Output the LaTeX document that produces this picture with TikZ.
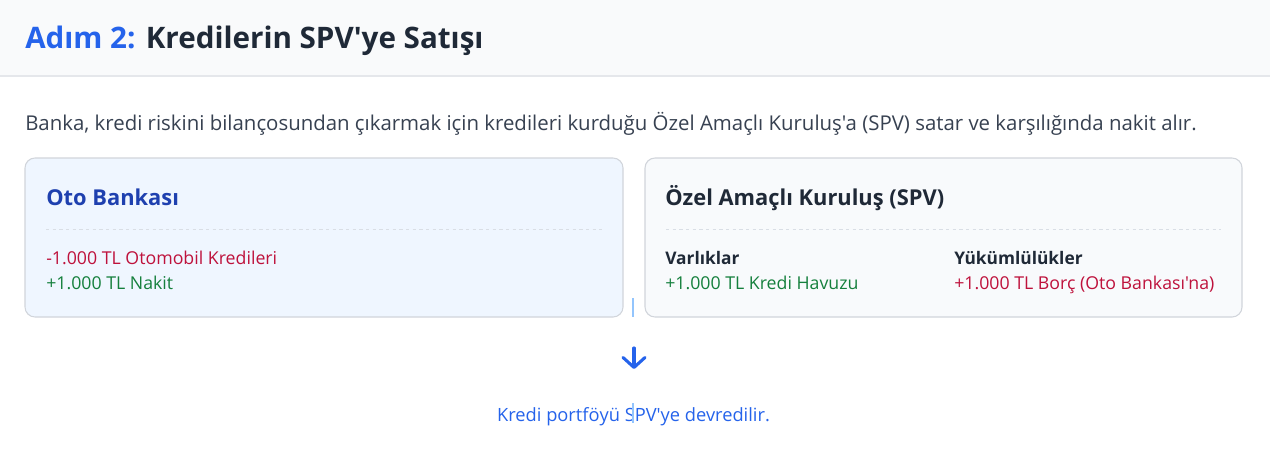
\documentclass[tikz,border=0pt]{standalone}
\usepackage{fontspec}
\setmainfont{Open Sans}[Ligatures=TeXOff]
\usetikzlibrary{arrows.meta}
\definecolor{stepblue}{HTML}{2563EB}
\definecolor{darkblue}{HTML}{1E40AF}
\definecolor{inkdark}{HTML}{1F2937}
\definecolor{inkbody}{HTML}{374151}
\definecolor{headbg}{HTML}{F9FAFB}
\definecolor{rulegray}{HTML}{E5E7EB}
\definecolor{cardline}{HTML}{D1D5DB}
\definecolor{dashgray}{HTML}{D9DEE5}
\definecolor{bankbg}{HTML}{EFF6FF}
\definecolor{spvbg}{HTML}{F8FAFC}
\definecolor{minusred}{HTML}{BE123C}
\definecolor{plusgreen}{HTML}{15803D}
\definecolor{linkblue}{HTML}{93C5FD}
\tikzset{
    txt/.style={anchor=base west, inner sep=0pt},
    cardtitle/.style={txt, font=\fontsize{16.4}{19}\selectfont\bfseries},
    cardline/.style={txt, font=\fontsize{13.3}{15}\selectfont},
    cardhead/.style={txt, inkdark, font=\fontsize{13}{15}\selectfont\bfseries},
    flowarrow/.style={stepblue, line width=2.3pt, line cap=round,
        -{Straight Barb[length=7.5pt, width=16.5pt, line width=2.3pt, line cap=round, line join=round]}}
}
\newcommand{\drawcard}[5]{
    % Card with rounded corners and a dashed rule under its title
    \filldraw[fill=#5, draw=cardline, line width=0.8pt, rounded corners=7.5pt] (#1,#2) rectangle (#3,#4);
    \draw[dashgray, dash pattern=on 2.5pt off 2.5pt, line width=0.5pt] (#1+21,229) -- (#3-21,229);
}

\begin{document}
\begin{tikzpicture}[x=0.75pt, y=-0.75pt]
    \useasboundingbox (0,0) rectangle (1270,450);
    \fill[white] (0,0) rectangle (1270,450);

    % Header band
    \fill[headbg] (0,0) rectangle (1270,76);
    \draw[rulegray, line width=0.8pt] (0,76) -- (1270,76);
    \node (title) [txt, inkdark, font=\fontsize{22.2}{26}\selectfont\bfseries] at (25,48)
        {\textcolor{stepblue}{Adım 2:} Kredilerin SPV'ye Satışı};

    % Description
    \node (desc) [txt, inkbody, font=\fontsize{15.3}{18}\selectfont] at (25,130)
        {Banka, kredi riskini bilançosundan çıkarmak için kredileri kurduğu Özel Amaçlı Kuruluş'a (SPV) satar ve karşılığında nakit alır.};

    % Link line between the cards
    \coordinate (linkA) at (633,298);
    \coordinate (linkB) at (633,317);
    \draw[linkblue, line width=1.6pt] (linkA) -- (linkB);

    % Bank card
    \drawcard{25}{158}{623}{317}{bankbg}
    \node (bank) [cardtitle, darkblue] at (46,205) {Oto Bankası};
    \node (bankloan) [cardline, minusred] at (46,264) {-1.000 TL Otomobil Kredileri};
    \node (bankcash) [cardline, plusgreen] at (46,289) {+1.000 TL Nakit};

    % SPV card
    \drawcard{645}{158}{1242}{317}{spvbg}
    \node (spv) [cardtitle, inkdark] at (665,205) {Özel Amaçlı Kuruluş (SPV)};
    \node (assets) [cardhead] at (665,264) {Varlıklar};
    \node (pool) [cardline, plusgreen] at (665,289) {+1.000 TL Kredi Havuzu};
    \node (liab) [cardhead] at (954,264) {Yükümlülükler};
    \node (debt) [cardline, minusred] at (954,289) {+1.000 TL Borç (Oto Bankası'na)};

    % Transfer arrow
    \coordinate (arrtop) at (634,348);
    \coordinate (arrbot) at (634,369);
    \draw[flowarrow] (arrtop) -- (arrbot);

    % Caption
    \node (note) [stepblue, font=\fontsize{13.7}{16}\selectfont, anchor=base, inner sep=0pt] at (633.5,421)
        {Kredi portföyü SPV'ye devredilir.};
    \coordinate (linkC) at (633,403);
    \coordinate (linkD) at (633,423);
    \draw[linkblue, line width=1.6pt] (linkC) -- (linkD);
\end{tikzpicture}
\end{document}
